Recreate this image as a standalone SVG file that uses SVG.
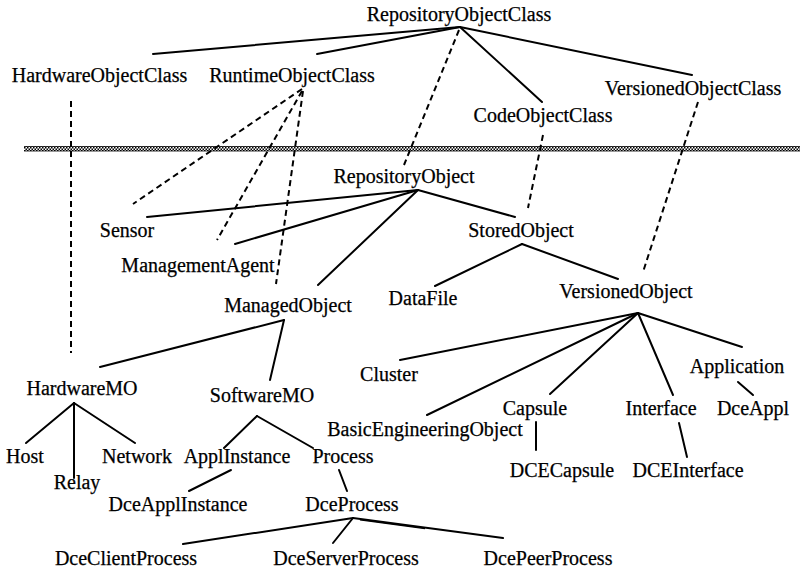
<svg xmlns="http://www.w3.org/2000/svg" width="800" height="574" viewBox="0 0 800 574">
<defs>
<pattern id="checker" width="3" height="3" patternUnits="userSpaceOnUse">
<rect x="0" y="0" width="1.5" height="1.5" fill="#000"/>
<rect x="1.5" y="1.5" width="1.5" height="1.5" fill="#000"/>
</pattern>
</defs>
<style>
text{font-family:"Liberation Serif","Times New Roman",serif;font-size:20px;fill:#000;text-anchor:middle;stroke:#000;stroke-width:0.25}
.s{stroke:#000;stroke-width:2;fill:none;stroke-linecap:round}
.d{stroke:#000;stroke-width:2;fill:none;stroke-dasharray:6 4}
</style>
<rect width="800" height="574" fill="#fff"/>
<g id="divider">
<rect x="24" y="146.5" width="776" height="4.5" fill="url(#checker)"/>
<line x1="24" y1="146.5" x2="800" y2="146.5" stroke="#000" stroke-width="0.8"/>
<line x1="24" y1="151" x2="800" y2="151" stroke="#000" stroke-width="0.8"/>
</g>
<g id="connectors">
<line class="s" x1="460" y1="27" x2="153" y2="54"/>
<line class="s" x1="460" y1="27" x2="317" y2="54"/>
<line class="s" x1="460" y1="27" x2="542" y2="102"/>
<line class="s" x1="460" y1="27" x2="692" y2="75"/>
<line class="d" x1="459" y1="30" x2="404" y2="165"/>
<line class="d" x1="543" y1="135" x2="528" y2="208"/>
<line class="d" x1="698" y1="102" x2="643" y2="272"/>
<line class="d" x1="71" y1="101" x2="71" y2="353"/>
<line class="d" x1="302" y1="89" x2="133" y2="204"/>
<line class="d" x1="302" y1="91" x2="217" y2="240"/>
<line class="d" x1="303" y1="91" x2="276" y2="284"/>
<line class="s" x1="418" y1="190" x2="147" y2="217"/>
<line class="s" x1="418" y1="190" x2="235" y2="244"/>
<line class="s" x1="418" y1="190" x2="318" y2="285"/>
<line class="s" x1="418" y1="190" x2="515" y2="217"/>
<line class="s" x1="522" y1="244" x2="435" y2="286"/>
<line class="s" x1="522" y1="244" x2="618" y2="279"/>
<line class="s" x1="638" y1="313" x2="400" y2="360"/>
<line class="s" x1="638" y1="313" x2="427" y2="415"/>
<line class="s" x1="638" y1="313" x2="550" y2="394"/>
<line class="s" x1="638" y1="313" x2="673" y2="395"/>
<line class="s" x1="638" y1="313" x2="742" y2="347"/>
<line class="s" x1="738" y1="382" x2="753" y2="395"/>
<line class="s" x1="536" y1="422" x2="536" y2="450"/>
<line class="s" x1="679" y1="423" x2="687" y2="457"/>
<line class="s" x1="284" y1="320" x2="100" y2="367"/>
<line class="s" x1="284" y1="320" x2="270" y2="380"/>
<line class="s" x1="74" y1="403" x2="26" y2="443"/>
<line class="s" x1="74" y1="403" x2="74" y2="478"/>
<line class="s" x1="74" y1="403" x2="135" y2="443"/>
<line class="s" x1="257" y1="416" x2="224" y2="448"/>
<line class="s" x1="257" y1="416" x2="313" y2="448"/>
<line class="s" x1="231" y1="470" x2="189" y2="491"/>
<line class="s" x1="339" y1="470" x2="347" y2="491"/>
<line class="s" x1="353" y1="518" x2="183" y2="544"/>
<line class="s" x1="353" y1="518" x2="333" y2="543"/>
<line class="s" x1="353" y1="518" x2="503" y2="538"/>
<line stroke="#000" stroke-width="1.5" x1="360" y1="519.8" x2="425" y2="528.5"/>
</g>
<g id="RepositoryObjectClass"><text x="459" y="21">RepositoryObjectClass</text></g>
<g id="HardwareObjectClass"><text x="99.5" y="82">HardwareObjectClass</text></g>
<g id="RuntimeObjectClass"><text x="292" y="82">RuntimeObjectClass</text></g>
<g id="VersionedObjectClass"><text x="693" y="95">VersionedObjectClass</text></g>
<g id="CodeObjectClass"><text x="543" y="122">CodeObjectClass</text></g>
<g id="RepositoryObject"><text x="404" y="183">RepositoryObject</text></g>
<g id="Sensor"><text x="127" y="237">Sensor</text></g>
<g id="StoredObject"><text x="521" y="237">StoredObject</text></g>
<g id="ManagementAgent"><text x="198" y="272">ManagementAgent</text></g>
<g id="DataFile"><text x="423" y="305">DataFile</text></g>
<g id="VersionedObject"><text x="626" y="298">VersionedObject</text></g>
<g id="ManagedObject"><text x="288" y="312">ManagedObject</text></g>
<g id="Application"><text x="737" y="373">Application</text></g>
<g id="Cluster"><text x="389" y="381">Cluster</text></g>
<g id="HardwareMO"><text x="82" y="395">HardwareMO</text></g>
<g id="SoftwareMO"><text x="262" y="402">SoftwareMO</text></g>
<g id="Capsule"><text x="535" y="415">Capsule</text></g>
<g id="Interface"><text x="661" y="415">Interface</text></g>
<g id="DceAppl"><text x="753" y="415">DceAppl</text></g>
<g id="BasicEngineeringObject"><text x="425" y="436">BasicEngineeringObject</text></g>
<g id="Host"><text x="25" y="463">Host</text></g>
<g id="Network"><text x="137" y="463">Network</text></g>
<g id="ApplInstance"><text x="237" y="463">ApplInstance</text></g>
<g id="Process"><text x="343" y="463">Process</text></g>
<g id="DCECapsule"><text x="562" y="477">DCECapsule</text></g>
<g id="DCEInterface"><text x="688" y="477">DCEInterface</text></g>
<g id="Relay"><text x="77" y="489">Relay</text></g>
<g id="DceApplInstance"><text x="178" y="511">DceApplInstance</text></g>
<g id="DceProcess"><text x="352" y="511">DceProcess</text></g>
<g id="DceClientProcess"><text x="126" y="565">DceClientProcess</text></g>
<g id="DceServerProcess"><text x="346" y="565">DceServerProcess</text></g>
<g id="DcePeerProcess"><text x="548" y="565">DcePeerProcess</text></g>
</svg>
